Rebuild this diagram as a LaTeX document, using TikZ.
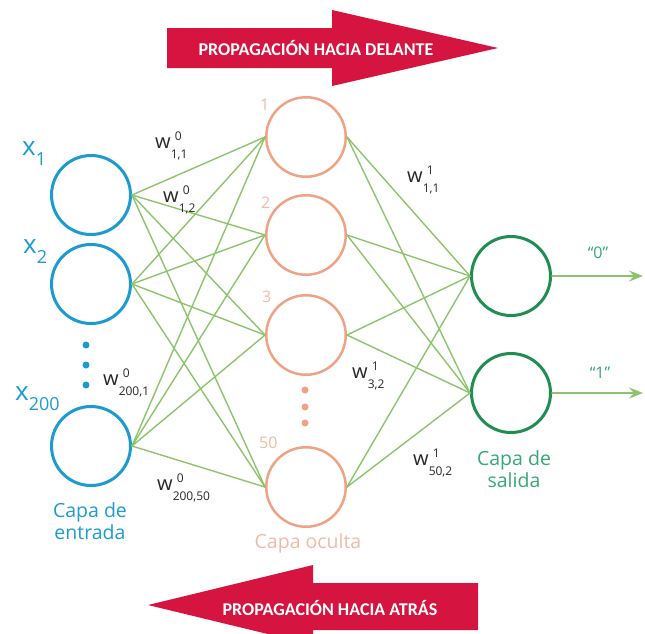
\documentclass[tikz,border=0pt]{standalone}
\usepackage{fontspec}
\setmainfont{Open Sans}
\newfontfamily\bannerfont{Carlito}
\usetikzlibrary{arrows.meta}
\usetikzlibrary{positioning}
\definecolor{inblue}{RGB}{28,155,208}
\definecolor{hidorange}{RGB}{240,162,132}
\definecolor{hidlabel}{RGB}{240,186,166}
\definecolor{outgreen}{RGB}{32,142,82}
\definecolor{outlabel}{RGB}{52,168,118}
\definecolor{synapsegreen}{RGB}{140,196,108}
\definecolor{bannerred}{RGB}{214,20,64}
\definecolor{weightgray}{RGB}{40,40,40}
% x with a low index, w with upper and lower index
\newcommand{\xin}[1]{x\raisebox{-10pt}{\fontsize{18}{18}\selectfont #1}}
\newcommand{\wgt}[2]{w\rlap{\hspace{4pt}\raisebox{8pt}{\fontsize{12}{12}\selectfont #1}}\raisebox{-10pt}{\fontsize{12}{12}\selectfont #2}}

\begin{document}
\begin{tikzpicture}[line cap=round,line join=round,x=1pt,y=-1pt,
  inneuron/.style={circle,draw=inblue,line width=3pt,minimum size=79pt,inner sep=0pt},
  hidneuron/.style={circle,draw=hidorange,line width=2.5pt,minimum size=79.5pt,inner sep=0pt},
  outneuron/.style={circle,draw=outgreen,line width=3pt,minimum size=79pt,inner sep=0pt},
  synapse/.style={draw=synapsegreen,line width=1.4pt},
  outarrow/.style={draw=synapsegreen,line width=1.6pt,-{Stealth[length=14pt,width=11pt,inset=5pt]}},
  bannertext/.style={text=white,font=\bannerfont\bfseries\fontsize{18}{18}\selectfont,inner sep=0pt},
  weight/.style={text=weightgray,font=\fontsize{20}{20}\selectfont,inner sep=0pt,anchor=base west},
  inlabel/.style={text=inblue,font=\fontsize{26}{26}\selectfont,inner sep=0pt,anchor=base west},
  hidnum/.style={text=hidlabel,font=\fontsize{16}{16}\selectfont,inner sep=0pt,anchor=base west},
  layername/.style={font=\fontsize{19.5}{22}\selectfont,align=center,inner sep=0pt}]
\useasboundingbox (0,0) rectangle (645,633);
% banners
\fill[bannerred] (167,28) -- (332,28) -- (332,10) -- (498,48) -- (332,86) -- (332,68) -- (167,68) -- cycle;
\node[bannertext,anchor=base] (fwd) at (316,55) {PROPAGACIÓN HACIA DELANTE};
\fill[bannerred] (478,583) -- (313,583) -- (313,565) -- (148,605) -- (313,645) -- (313,630) -- (478,630) -- cycle;
\node[bannertext,anchor=base] (bwd) at (330,615) {PROPAGACIÓN HACIA ATRÁS};
% input layer
\node[inneuron] (i1) at (91,195) {};
\node[inneuron] (i2) at (91,284) {};
\node[inneuron] (i3) at (91,446) {};
\foreach \y in {345,365,385}
\fill[inblue] (86,\y) circle (3.5pt);
\node[inlabel] (lx1) at (22,155) {\xin{1}};
\node[inlabel] (lx2) at (23,253) {\xin{2}};
\node[inlabel] (lx3) at (15,400) {\xin{200}};
% hidden layer
\foreach \n/\y in {1/137,2/235,3/335,4/487}
\node[hidneuron] (h\n) at (306,\y) {};
\foreach \y in {390,407,423}
\fill[hidorange] (305,\y) circle (3.5pt);
\node[hidnum] (lh1) at (260,110) {1};
\node[hidnum] (lh2) at (261,208) {2};
\node[hidnum] (lh3) at (262,302) {3};
\node[hidnum] (lh4) at (259,448) {50};
% output layer
\node[outneuron] (o1) at (511,276) {};
\node[outneuron] (o2) at (511,393) {};
% connections
\foreach \i in {1,2,3}
\foreach \h in {1,...,4}
\draw[synapse] (i\i.east) -- (h\h.west);
\foreach \h in {1,...,4}
\foreach \o in {1,2}
\draw[synapse] (h\h.east) -- (o\o.west);
\coordinate (y0) at (643,276);
\coordinate (y1) at (643,393);
\draw[outarrow] (o1.east) -- (y0);
\draw[outarrow] (o2.east) -- (y1);
\node[text=outlabel,font=\fontsize{16}{16}\selectfont,inner sep=0pt,anchor=base] (ly0) at (598,258) {“0”};
\node[text=outlabel,font=\fontsize{16}{16}\selectfont,inner sep=0pt,anchor=base] (ly1) at (600,378) {“1”};
% weights
\node[weight] (w011) at (155,148) {\wgt{0}{1,1}};
\node[weight] (w012) at (163,202) {\wgt{0}{1,2}};
\node[weight] (w0a) at (103,385) {\wgt{0}{200,1}};
\node[weight] (w0b) at (157,490) {\wgt{0}{200,50}};
\node[weight] (w111) at (407,182) {\wgt{1}{1,1}};
\node[weight] (w132) at (352,378) {\wgt{1}{3,2}};
\node[weight] (w1b) at (413,465) {\wgt{1}{50,2}};
% layer names
\node[layername,text=inblue] (lin) at (90,521) {Capa de\\entrada};
\node[layername,text=hidlabel,anchor=base] (lhid) at (308,548) {Capa oculta};
\node[layername,text=outlabel] (lout) at (514,469) {Capa de\\salida};
\end{tikzpicture}
\end{document}
